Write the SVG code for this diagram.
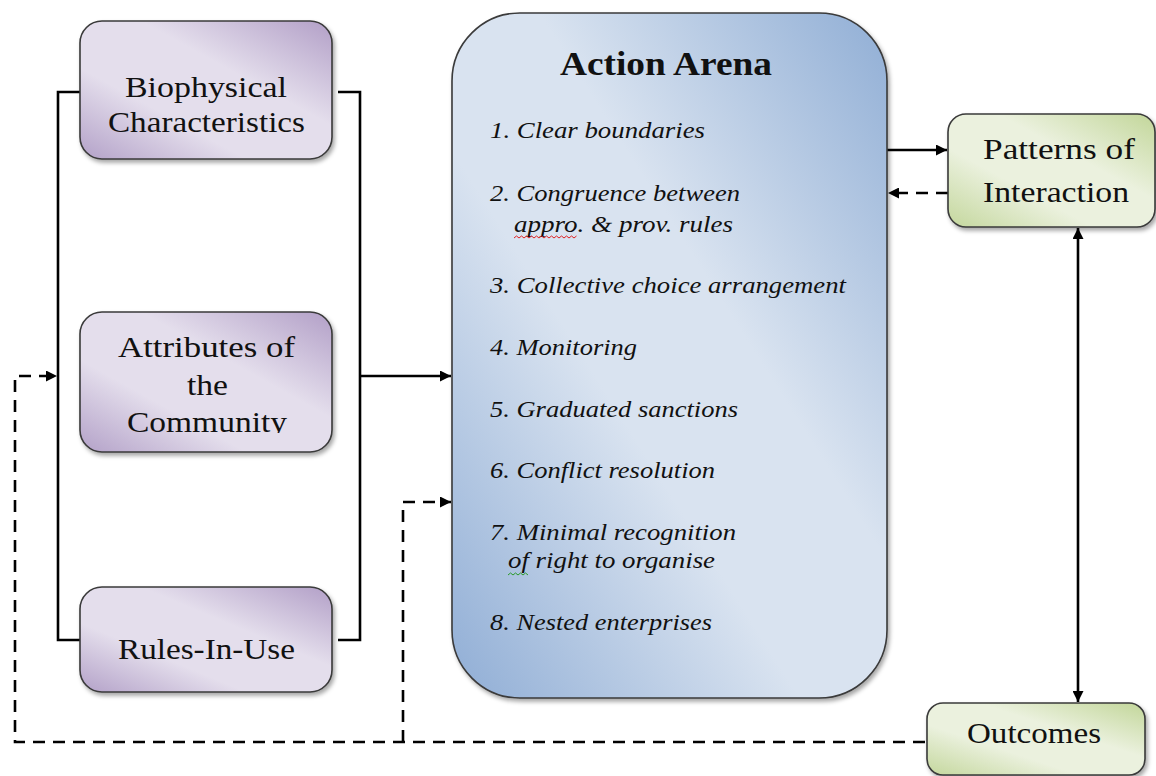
<svg xmlns="http://www.w3.org/2000/svg" width="1156" height="776" viewBox="0 0 1156 776">
<style>
.box{stroke:#3a3a3a;stroke-width:1.6}
.lbl{font-family:"Liberation Serif","Times New Roman",serif;font-size:30px;fill:#111}
.item{font-family:"Liberation Serif","Times New Roman",serif;font-style:italic;font-size:24px;fill:#111}
.title{font-family:"Liberation Serif","Times New Roman",serif;font-weight:bold;font-size:33px;fill:#111}
.solid{fill:none;stroke:#000;stroke-width:2.6}
.dash{fill:none;stroke:#000;stroke-width:2.6;stroke-dasharray:12 8}
</style>
<defs>
<linearGradient id="gPurple" x1="0" y1="1" x2="1" y2="0">
<stop offset="0" stop-color="#b3a1c8"/>
<stop offset="0.33" stop-color="#e4deec"/>
<stop offset="0.62" stop-color="#e4deec"/>
<stop offset="1" stop-color="#b29fc7"/>
</linearGradient>
<linearGradient id="gGreen" x1="0" y1="1" x2="1" y2="0">
<stop offset="0" stop-color="#c4d79d"/>
<stop offset="0.35" stop-color="#ebf1de"/>
<stop offset="0.62" stop-color="#ebf1de"/>
<stop offset="1" stop-color="#c2d699"/>
</linearGradient>
<linearGradient id="gBlue" x1="0" y1="1" x2="1" y2="0">
<stop offset="0" stop-color="#8fadd5"/>
<stop offset="0.4" stop-color="#d9e3f0"/>
<stop offset="0.6" stop-color="#d9e3f0"/>
<stop offset="1" stop-color="#90aed5"/>
</linearGradient>
<filter id="shadow" x="-10%" y="-10%" width="120%" height="125%">
<feDropShadow dx="2" dy="3" stdDeviation="2" flood-color="#000" flood-opacity="0.35"/>
</filter>
<marker id="arrow" viewBox="0 0 10 10" refX="10" refY="5" markerWidth="12" markerHeight="11" markerUnits="userSpaceOnUse" orient="auto-start-reverse">
<path d="M0,0 L10,5 L0,10 Z" fill="#000"/>
</marker>
<clipPath id="clipComm"><rect x="80" y="312" width="252" height="121"/></clipPath>
</defs>

<g id="connectors">
<path class="solid" d="M80,92 H58 V640 H80"/>
<path class="solid" d="M338,92 H360 V640 H338"/>
<path class="solid" d="M360,376 H451" marker-end="url(#arrow)"/>
<path class="dash" d="M925,742 H15 V376 H57" marker-end="url(#arrow)"/>
<path class="dash" d="M403,742 V502 H451" marker-end="url(#arrow)"/>
<path class="solid" d="M887,150 H947" marker-end="url(#arrow)"/>
<path class="dash" d="M948,193 H888" marker-end="url(#arrow)"/>
<path class="solid" d="M1078,228 V702" marker-start="url(#arrow)" marker-end="url(#arrow)"/>
</g>

<g id="biophysical">
<rect class="box" x="80" y="21" width="252" height="138" rx="22" fill="url(#gPurple)" filter="url(#shadow)"/>
<text class="lbl" x="125" y="97" textLength="162" lengthAdjust="spacingAndGlyphs">Biophysical</text>
<text class="lbl" x="108" y="132" textLength="197" lengthAdjust="spacingAndGlyphs">Characteristics</text>
</g>

<g id="attributes">
<rect class="box" x="80" y="312" width="252" height="140" rx="22" fill="url(#gPurple)" filter="url(#shadow)"/>
<text class="lbl" x="118" y="357" textLength="177" lengthAdjust="spacingAndGlyphs">Attributes of</text>
<text class="lbl" x="187" y="395" textLength="41" lengthAdjust="spacingAndGlyphs">the</text>
<text class="lbl" x="127" y="432" textLength="160" lengthAdjust="spacingAndGlyphs" clip-path="url(#clipComm)">Community</text>
</g>

<g id="rules">
<rect class="box" x="80" y="587" width="252" height="105" rx="22" fill="url(#gPurple)" filter="url(#shadow)"/>
<text class="lbl" x="118" y="659" textLength="177" lengthAdjust="spacingAndGlyphs">Rules-In-Use</text>
</g>

<g id="action-arena">
<rect class="box" x="452" y="13" width="435" height="685" rx="68" fill="url(#gBlue)" filter="url(#shadow)"/>
<text class="title" x="560" y="75" textLength="212" lengthAdjust="spacingAndGlyphs">Action Arena</text>
<text class="item" x="490" y="138" textLength="215" lengthAdjust="spacingAndGlyphs">1. Clear boundaries</text>
<text class="item" x="490" y="201" textLength="250" lengthAdjust="spacingAndGlyphs">2. Congruence between</text>
<text class="item" x="514" y="232" textLength="219" lengthAdjust="spacingAndGlyphs">appro. &amp; prov. rules</text>
<path d="M514,238 l2.5,-2 l2.5,2 l2.5,-2 l2.5,2 l2.5,-2 l2.5,2 l2.5,-2 l2.5,2 l2.5,-2 l2.5,2 l2.5,-2 l2.5,2 l2.5,-2 l2.5,2 l2.5,-2 l2.5,2 l2.5,-2 l2.5,2 l2.5,-2 l2.5,2 l2.5,-2 l2.5,2 l2.5,-2 l2.5,2 l2.5,-2" fill="none" stroke="#e02020" stroke-width="1"/>
<text class="item" x="490" y="293" textLength="356" lengthAdjust="spacingAndGlyphs">3. Collective choice arrangement</text>
<text class="item" x="490" y="355" textLength="147" lengthAdjust="spacingAndGlyphs">4. Monitoring</text>
<text class="item" x="490" y="417" textLength="248" lengthAdjust="spacingAndGlyphs">5. Graduated sanctions</text>
<text class="item" x="490" y="478" textLength="225" lengthAdjust="spacingAndGlyphs">6. Conflict resolution</text>
<text class="item" x="490" y="540" textLength="246" lengthAdjust="spacingAndGlyphs">7. Minimal recognition</text>
<text class="item" x="508" y="568" textLength="207" lengthAdjust="spacingAndGlyphs">of right to organise</text>
<path d="M508,575 l2.5,-2 l2.5,2 l2.5,-2 l2.5,2 l2.5,-2 l2.5,2 l2.5,-2 l2.5,2" fill="none" stroke="#2a9a2a" stroke-width="1"/>
<text class="item" x="490" y="630" textLength="222" lengthAdjust="spacingAndGlyphs">8. Nested enterprises</text>
</g>

<g id="patterns">
<rect class="box" x="948" y="114" width="207" height="113" rx="18" fill="url(#gGreen)" filter="url(#shadow)"/>
<text class="lbl" x="983" y="159" textLength="152" lengthAdjust="spacingAndGlyphs">Patterns of</text>
<text class="lbl" x="983" y="202" textLength="146" lengthAdjust="spacingAndGlyphs">Interaction</text>
</g>

<g id="outcomes">
<rect class="box" x="927" y="703" width="218" height="72" rx="16" fill="url(#gGreen)" filter="url(#shadow)"/>
<text class="lbl" x="967" y="743" textLength="134" lengthAdjust="spacingAndGlyphs">Outcomes</text>
</g>
</svg>
